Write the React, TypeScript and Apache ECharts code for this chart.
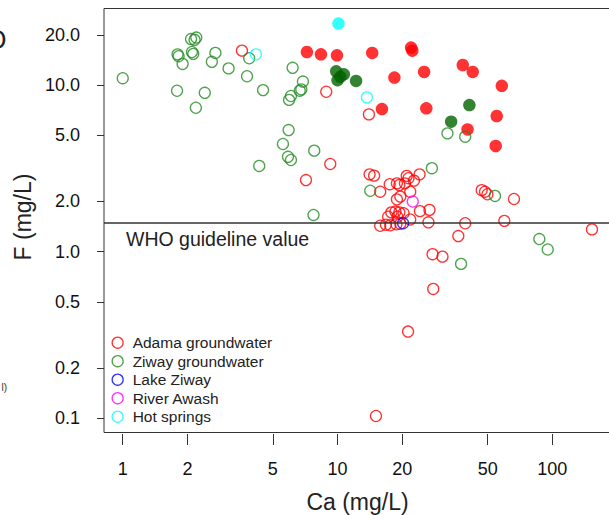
import React, { useEffect, useRef } from "react";
import * as echarts from "echarts";

// Tick values
const xTicks = [1, 2, 5, 10, 20, 50, 100];
const yTicks = [0.1, 0.2, 0.5, 1, 2, 5, 10, 20];
const whoGuideline = 1.5;

// [Ca (mg/L), F (mg/L)]
const adamaOpen: number[][] = [
  [3.59, 16.1], [8.86, 9.12], [9.25, 3.36], [7.13, 2.69], [14.0, 6.67],
  [14.1, 2.91], [14.8, 2.86], [15.8, 2.29], [17.5, 2.54], [18.9, 2.57], [19.4, 2.51],
  [21.0, 2.85], [21.4, 2.76], [22.7, 2.67], [24.1, 2.91], [20.6, 2.57], [21.8, 2.29],
  [18.9, 2.06], [19.6, 2.14], [24.2, 1.75], [26.8, 1.78], [26.5, 1.5],
  [17.8, 1.72], [18.6, 1.74], [19.4, 1.72], [20.3, 1.7], [17.2, 1.62], [19.0, 1.62],
  [15.8, 1.43], [16.8, 1.45], [17.6, 1.44], [18.8, 1.46], [19.6, 1.47], [21.8, 1.56],
  [39.3, 1.48], [36.5, 1.24], [59.8, 1.53], [66.3, 2.07], [46.9, 2.34], [48.6, 2.29],
  [49.9, 2.21], [153, 1.36], [27.7, 0.965], [30.8, 0.933], [27.9, 0.597], [21.3, 0.331],
  [15.1, 0.103],
];
const adamaFilled: number[][] = [
  [7.2, 15.8], [8.37, 15.3], [9.94, 15.1], [14.5, 15.6], [22.0, 16.8], [22.3, 16.1],
  [18.4, 11.1], [25.3, 12.0], [38.3, 13.2], [42.6, 12.0], [58.2, 9.9], [16.1, 7.18],
  [25.9, 7.25], [55.1, 6.52], [40.3, 5.42], [54.5, 4.31],
];
const ziwayOpen: number[][] = [
  [1.0, 11.0], [1.8, 15.3], [1.82, 14.9], [1.9, 13.4], [1.79, 9.25], [2.08, 18.9],
  [2.2, 19.3], [2.16, 18.7], [2.1, 15.8], [2.13, 15.4], [2.19, 7.31], [2.41, 8.99],
  [2.7, 15.6], [2.6, 13.8], [3.11, 12.6], [3.88, 14.5], [3.79, 11.3], [4.5, 9.33],
  [6.18, 12.7], [6.9, 10.5], [6.78, 9.42], [6.67, 9.25], [6.07, 8.6], [5.95, 8.15],
  [5.92, 5.37], [5.57, 4.43], [5.88, 3.71], [6.07, 3.55], [7.79, 4.04], [4.32, 3.27],
  [7.73, 1.66], [32.5, 5.13], [39.3, 4.9], [27.5, 3.17], [14.2, 2.32], [54.1, 2.16],
  [87.0, 1.19], [95.2, 1.03], [37.6, 0.844],
];
const ziwayFilled: number[][] = [
  [9.86, 12.1], [10.7, 11.6], [10.0, 10.7], [10.3, 11.2], [12.2, 10.6], [41.1, 7.59], [33.8, 6.03],
];
const lakeZiway: number[][] = [[20.2, 1.48]];
const riverAwash: number[][] = [[22.4, 2.0]];
const hotSpringsOpen: number[][] = [[4.17, 15.3], [13.7, 8.44]];
const hotSpringsFilled: number[][] = [[10.1, 23.4]];

const legendNames = ["Adama groundwater", "Ziway groundwater", "Lake Ziway", "River Awash", "Hot springs"];
const legendColors = ["#ff0000", "#228b22", "#0000ff", "#ff00ff", "#00ffff"];

export default function App() {
  const ref = useRef<HTMLDivElement>(null);
  useEffect(() => {
    const chart = echarts.init(ref.current!, null, { renderer: "svg" });
    const font = "'Liberation Sans', Arial, Helvetica, sans-serif";
    const open = (name: string, data: number[][], color: string) => ({
      type: "scatter", name, data, symbol: "circle", symbolSize: 11, silent: true,
      itemStyle: { color: "rgba(0,0,0,0)", borderColor: color, borderWidth: 1.3 },
    });
    const filled = (name: string, data: number[][], color: string) => ({
      type: "scatter", name, data, symbol: "circle", symbolSize: 12.5, silent: true,
      itemStyle: { color, borderWidth: 0 },
    });
    chart.setOption({
      animation: false,
      grid: {
        left: 104, top: 8.5, width: 507, height: 424, show: true,
        borderColor: "#333", borderWidth: 1, backgroundColor: "transparent",
        containLabel: false, outerBoundsMode: "none",
      },
      xAxis: {
        type: "log", min: 0.818, max: 187.6, offset: 1.5,
        axisLine: { show: false },
        axisTick: { show: true, length: 11, lineStyle: { color: "#333", width: 1 }, customValues: xTicks },
        minorTick: { show: false }, splitLine: { show: false }, minorSplitLine: { show: false },
        axisLabel: {
          customValues: xTicks, fontSize: 18, color: "#111", margin: 26, fontFamily: font,
          formatter: (v: number) => String(Number(v.toPrecision(3))),
        },
        name: "Ca (mg/L)", nameLocation: "middle", nameGap: 56,
        nameTextStyle: { fontSize: 23, color: "#222", fontFamily: font },
      },
      yAxis: {
        type: "log", min: 0.082, max: 28.84,
        axisLine: { show: false },
        axisTick: { show: true, length: 7, lineStyle: { color: "#333", width: 1 }, customValues: yTicks },
        minorTick: { show: false }, splitLine: { show: false }, minorSplitLine: { show: false },
        axisLabel: {
          customValues: yTicks, fontSize: 18, color: "#111", margin: 24, fontFamily: font,
          formatter: (v: number) => {
            const r = Number(v.toPrecision(3));
            return r >= 1 ? r.toFixed(1) : String(r);
          },
        },
        name: "F (mg/L)", nameLocation: "middle", nameGap: 60,
        nameTextStyle: { fontSize: 23, color: "#222", fontFamily: font, padding: [0, 0, 0, 7] },
      },
      legend: {
        orient: "vertical", left: 111.5, top: 334.7, padding: 0,
        itemWidth: 20, itemHeight: 11, itemGap: 2.5,
        icon: "circle", selectedMode: false,
        textStyle: { fontSize: 15.5, color: "#222", fontFamily: font },
        data: legendNames.map((n, i) => ({
          name: n,
          itemStyle: { color: "rgba(0,0,0,0)", borderColor: legendColors[i], borderWidth: 1.3 },
        })),
      },
      graphic: [
        { type: "text", x: 126, y: 238.5, silent: true,
          style: { text: "WHO guideline value", fontSize: 19.5, fill: "#222", fontFamily: font, align: "left", verticalAlign: "middle" } },
        { type: "text", x: 6.5, y: 40, silent: true,
          style: { text: "O", fontSize: 27, fill: "#222", fontFamily: font, align: "right", verticalAlign: "middle" } },
        { type: "text", x: 7, y: 387, silent: true,
          style: { text: "l)", fontSize: 10, fill: "#333", fontFamily: font, align: "right", verticalAlign: "middle" } },
      ],
      series: [
        {
          ...filled("Adama groundwater (filled)", adamaFilled, "#ff0000"),
          markLine: {
            silent: true, symbol: "none", label: { show: false },
            lineStyle: { color: "#333", width: 1.5, type: "solid" },
            data: [{ yAxis: whoGuideline }],
          },
        },
        filled("Ziway groundwater (filled)", ziwayFilled, "#006400"),
        filled("Hot springs (filled)", hotSpringsFilled, "#00ffff"),
        open("Adama groundwater", adamaOpen, "#ff0000"),
        open("Ziway groundwater", ziwayOpen, "#228b22"),
        open("Lake Ziway", lakeZiway, "#0000ff"),
        open("River Awash", riverAwash, "#ff00ff"),
        open("Hot springs", hotSpringsOpen, "#00ffff"),
      ],
    });
    return () => chart.dispose();
  }, []);
  return (
    <div
      ref={ref}
      style={{ position: "absolute", left: 0, top: 0, width: 609, height: 515, overflow: "hidden", background: "#fff" }}
    />
  );
}
